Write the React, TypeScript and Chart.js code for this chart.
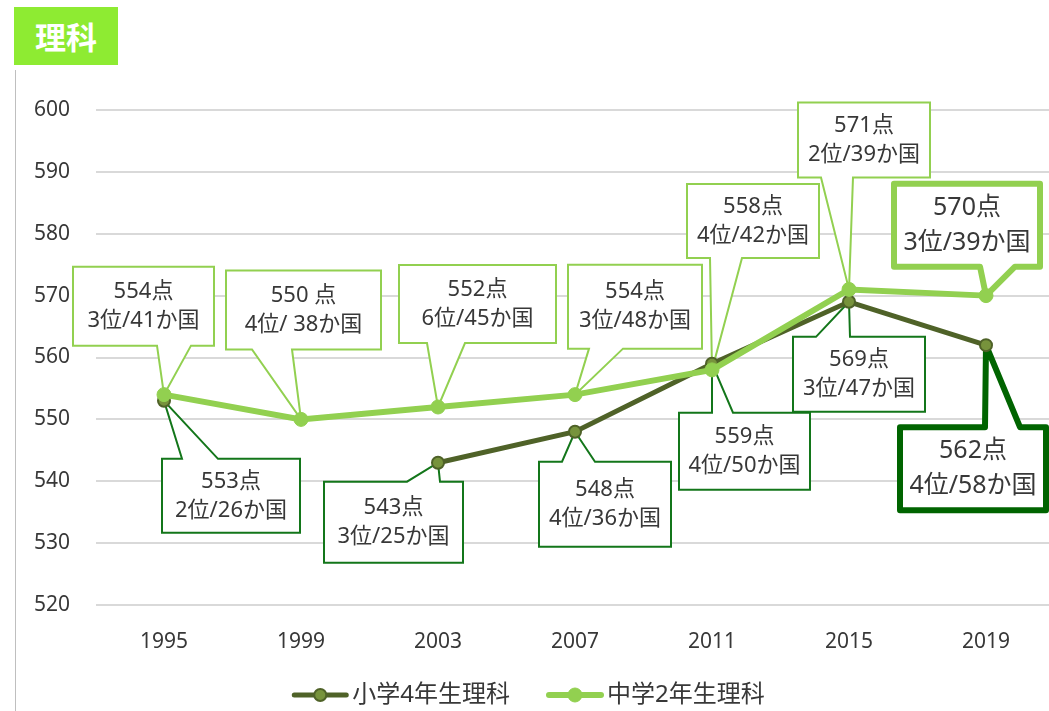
import React, { useEffect, useRef } from 'react';
import { Chart, registerables } from 'chart.js';

Chart.register(...registerables);

// ---------- data ----------
const years = ['1995', '1999', '2003', '2007', '2011', '2015', '2019'];
const elementaryScores = [553, null, 543, 548, 559, 569, 562];
const juniorScores = [554, 550, 552, 554, 558, 571, 570];
const elementaryScoreText = ['553点', null, '543点', '548点', '559点', '569点', '562点'];
const elementaryRanks = ['2位/26か国', null, '3位/25か国', '4位/36か国', '4位/50か国', '3位/47か国', '4位/58か国'];
const juniorScoreText = ['554点', '550 点', '552点', '554点', '558点', '571点', '570点'];
const juniorRanks = ['3位/41か国', '4位/ 38か国', '6位/45か国', '3位/48か国', '4位/42か国', '2位/39か国', '3位/39か国'];
const seriesNames = ['小学4年生理科', '中学2年生理科'];
const yMin = 520;
const yMax = 600;
const yStep = 10;

// ---------- plot geometry ----------
const PLOT = { left: 95.5, right: 1054.5, top: 110, bottom: 605 };

// ---------- callout layout (offsets from each data point, in px) ----------
type Callout = { l: number; t: number; r: number; b: number; w1: number; w2: number; edge: 'top' | 'bottom'; heavy?: boolean } | null;

const juniorCallouts: Callout[] = [
  { l: -91, t: -128, r: 50, b: -49, w1: -7, w2: 27, edge: 'bottom' },
  { l: -75, t: -149, r: 80, b: -70, w1: -49, w2: -9, edge: 'bottom' },
  { l: -39, t: -142, r: 118, b: -64, w1: -11, w2: 27, edge: 'bottom' },
  { l: -7, t: -130, r: 127, b: -46, w1: 14, w2: 48, edge: 'bottom' },
  { l: -25, t: -186, r: 107, b: -112, w1: -2, w2: 30, edge: 'bottom' },
  { l: -51, t: -187, r: 81, b: -112, w1: -28, w2: 4, edge: 'bottom' },
  { l: -92, t: -112, r: 54, b: -29, w1: -6, w2: 29, edge: 'bottom', heavy: true },
];
const elementaryCallouts: Callout[] = [
  { l: -2, t: 58, r: 136, b: 132, w1: 18, w2: 54, edge: 'top' },
  null,
  { l: -114, t: 19, r: 25, b: 100, w1: -31, w2: 2, edge: 'top' },
  { l: -36, t: 30, r: 96, b: 115, w1: -13, w2: 20, edge: 'top' },
  { l: -33, t: 49, r: 98, b: 126, w1: 0, w2: 21, edge: 'top' },
  { l: -56, t: 35, r: 76, b: 110, w1: -33, w2: 1, edge: 'top' },
  { l: -86, t: 82, r: 60, b: 165, w1: -1, w2: 34, edge: 'top', heavy: true },
];

const FONT = "'Noto Sans', 'Noto Sans CJK JP', sans-serif";
const TEXT_COLOR = '#383838';
const DARK = '#4F6228';
const DARK_FILL = '#77933C';
const LIGHT = '#92D050';
const CALLOUT_DARK = '#13761A';
const CALLOUT_DARK_HEAVY = '#006400';

// pins the plot area to the reference geometry (the category axis runs slightly past the canvas edge)
const geometryPlugin = {
  id: 'geometry',
  afterLayout(chart: any) {
    const area = chart.chartArea;
    area.left = PLOT.left;
    area.right = PLOT.right;
    area.top = PLOT.top;
    area.bottom = PLOT.bottom;
    area.width = PLOT.right - PLOT.left;
    area.height = PLOT.bottom - PLOT.top;
    const xs = chart.scales.x;
    const xh = xs.bottom - xs.top;
    xs.left = PLOT.left;
    xs.right = PLOT.right;
    xs.width = PLOT.right - PLOT.left;
    xs.top = PLOT.bottom;
    xs.bottom = PLOT.bottom + xh;
    xs.configure();
    const ys = chart.scales.y;
    ys.left = 0;
    ys.right = PLOT.left;
    ys.width = PLOT.left;
    ys.top = PLOT.top;
    ys.bottom = PLOT.bottom;
    ys.height = PLOT.bottom - PLOT.top;
    ys.configure();
  },
};

const calloutPlugin = {
  id: 'callouts',
  beforeDatasetsDraw(chart: any) {
    const ctx = chart.ctx;
    const sets = [
      { idx: 0, layout: elementaryCallouts, top: elementaryScoreText, bottom: elementaryRanks, color: CALLOUT_DARK, heavyColor: CALLOUT_DARK_HEAVY },
      { idx: 1, layout: juniorCallouts, top: juniorScoreText, bottom: juniorRanks, color: LIGHT, heavyColor: LIGHT },
    ];
    ctx.save();
    for (const s of sets) {
      const meta = chart.getDatasetMeta(s.idx);
      s.layout.forEach((c, j) => {
        if (!c) return;
        const pt = meta.data[j];
        if (!pt || pt.skip) return;
        const px = pt.x;
        const py = pt.y;
        const L = px + c.l, R = px + c.r, T = py + c.t, B = py + c.b;
        const w1 = px + c.w1, w2 = px + c.w2;
        ctx.beginPath();
        if (c.edge === 'bottom') {
          ctx.moveTo(L, T);
          ctx.lineTo(R, T);
          ctx.lineTo(R, B);
          ctx.lineTo(w2, B);
          ctx.lineTo(px, py);
          ctx.lineTo(w1, B);
          ctx.lineTo(L, B);
        } else {
          ctx.moveTo(L, T);
          ctx.lineTo(w1, T);
          ctx.lineTo(px, py);
          ctx.lineTo(w2, T);
          ctx.lineTo(R, T);
          ctx.lineTo(R, B);
          ctx.lineTo(L, B);
        }
        ctx.closePath();
        ctx.fillStyle = '#ffffff';
        ctx.fill();
        ctx.lineJoin = c.heavy ? 'round' : 'miter';
        ctx.lineWidth = c.heavy ? 6 : 2;
        ctx.strokeStyle = c.heavy ? s.heavyColor : s.color;
        ctx.stroke();

        const size = c.heavy ? 25 : 22;
        const gap = c.heavy ? 17.5 : 14.5;
        const cx = (L + R) / 2;
        const cy = (T + B) / 2;
        ctx.fillStyle = TEXT_COLOR;
        ctx.font = `${size}px ${FONT}`;
        ctx.textAlign = 'center';
        ctx.textBaseline = 'middle';
        ctx.fillText(String(s.top[j]), cx, cy - gap);
        ctx.fillText(String(s.bottom[j]), cx, cy + gap);
      });
    }
    ctx.restore();
  },
};

const legendPlugin = {
  id: 'customLegend',
  afterDraw(chart: any) {
    const ctx = chart.ctx;
    const datasets = chart.data.datasets;
    const fontSize = 24;
    const markerW = 58;
    const textGap = 3;
    const itemGap = 36;
    const centerX = 528;
    const y = 695;
    ctx.save();
    ctx.font = `${fontSize}px ${FONT}`;
    const widths = datasets.map((d: any) => ctx.measureText(d.label).width);
    const total = widths.reduce((a: number, w: number) => a + markerW + textGap + w, 0) + itemGap * (datasets.length - 1);
    let x = centerX - total / 2;
    datasets.forEach((d: any, i: number) => {
      ctx.beginPath();
      ctx.moveTo(x + 3, y);
      ctx.lineTo(x + markerW - 3, y);
      ctx.lineWidth = d.borderWidth;
      ctx.lineCap = 'round';
      ctx.strokeStyle = d.borderColor;
      ctx.stroke();
      ctx.beginPath();
      ctx.arc(x + markerW / 2, y, d.pointRadius, 0, Math.PI * 2);
      ctx.fillStyle = d.pointBackgroundColor;
      ctx.fill();
      ctx.lineWidth = d.pointBorderWidth;
      ctx.strokeStyle = d.pointBorderColor;
      ctx.stroke();
      ctx.fillStyle = TEXT_COLOR;
      ctx.textAlign = 'left';
      ctx.textBaseline = 'middle';
      ctx.fillText(d.label, x + markerW + textGap, y);
      x += markerW + textGap + widths[i] + itemGap;
    });
    ctx.restore();
  },
};

export default function App() {
  const canvasRef = useRef<HTMLCanvasElement | null>(null);

  useEffect(() => {
    if (!canvasRef.current) return;
    const chart = new Chart(canvasRef.current, {
      type: 'line',
      data: {
        labels: years,
        datasets: [
          {
            label: seriesNames[0],
            data: elementaryScores,
            borderColor: DARK,
            borderWidth: 5,
            pointRadius: 6,
            pointHoverRadius: 6,
            pointBackgroundColor: DARK_FILL,
            pointBorderColor: DARK,
            pointBorderWidth: 2,
            spanGaps: false,
            tension: 0,
            order: 1,
          },
          {
            label: seriesNames[1],
            data: juniorScores,
            borderColor: LIGHT,
            borderWidth: 6,
            pointRadius: 7,
            pointHoverRadius: 7,
            pointBackgroundColor: LIGHT,
            pointBorderColor: LIGHT,
            pointBorderWidth: 1,
            tension: 0,
            order: 0,
          },
        ],
      },
      options: {
        responsive: false,
        animation: false,
        layout: { padding: { left: 0, right: 0, top: 110, bottom: 56 } },
        plugins: {
          legend: { display: false },
          tooltip: { enabled: false },
          title: { display: false },
        },
        scales: {
          x: {
            offset: true,
            grid: { display: false, drawTicks: false },
            border: { display: false },
            ticks: {
              color: TEXT_COLOR,
              font: { family: FONT, size: 21 },
              padding: 24.4,
              maxRotation: 0,
            },
            afterFit: (scale: any) => {
              scale.height = 50;
            },
          },
          y: {
            min: yMin,
            max: yMax,
            grid: { color: '#D9D9D9', lineWidth: 2, drawTicks: false },
            border: { display: false },
            ticks: {
              stepSize: yStep,
              color: TEXT_COLOR,
              font: { family: FONT, size: 21 },
              padding: 25.5,
            },
            afterFit: (scale: any) => {
              scale.width = 95.5;
            },
          },
        },
      },
      plugins: [geometryPlugin, calloutPlugin, legendPlugin],
    });
    return () => chart.destroy();
  }, []);

  return (
    <div style={{ position: 'absolute', left: 0, top: 0, width: 1049, height: 711, overflow: 'hidden', background: '#ffffff' }}>
      <div
        style={{
          position: 'absolute',
          left: 14,
          top: 7,
          width: 104,
          height: 58,
          background: '#8EEB32',
          color: '#ffffff',
          fontFamily: "'Noto Sans CJK JP', sans-serif",
          fontWeight: 700,
          fontSize: 31,
          lineHeight: '58px',
          textAlign: 'center',
        }}
      >
        理科
      </div>
      <div style={{ position: 'absolute', left: 15, top: 70, width: 1, height: 641, background: '#BFBFBF' }} />
      <canvas ref={canvasRef} width={1049} height={711} style={{ position: 'absolute', left: 0, top: 0 }} />
    </div>
  );
}
